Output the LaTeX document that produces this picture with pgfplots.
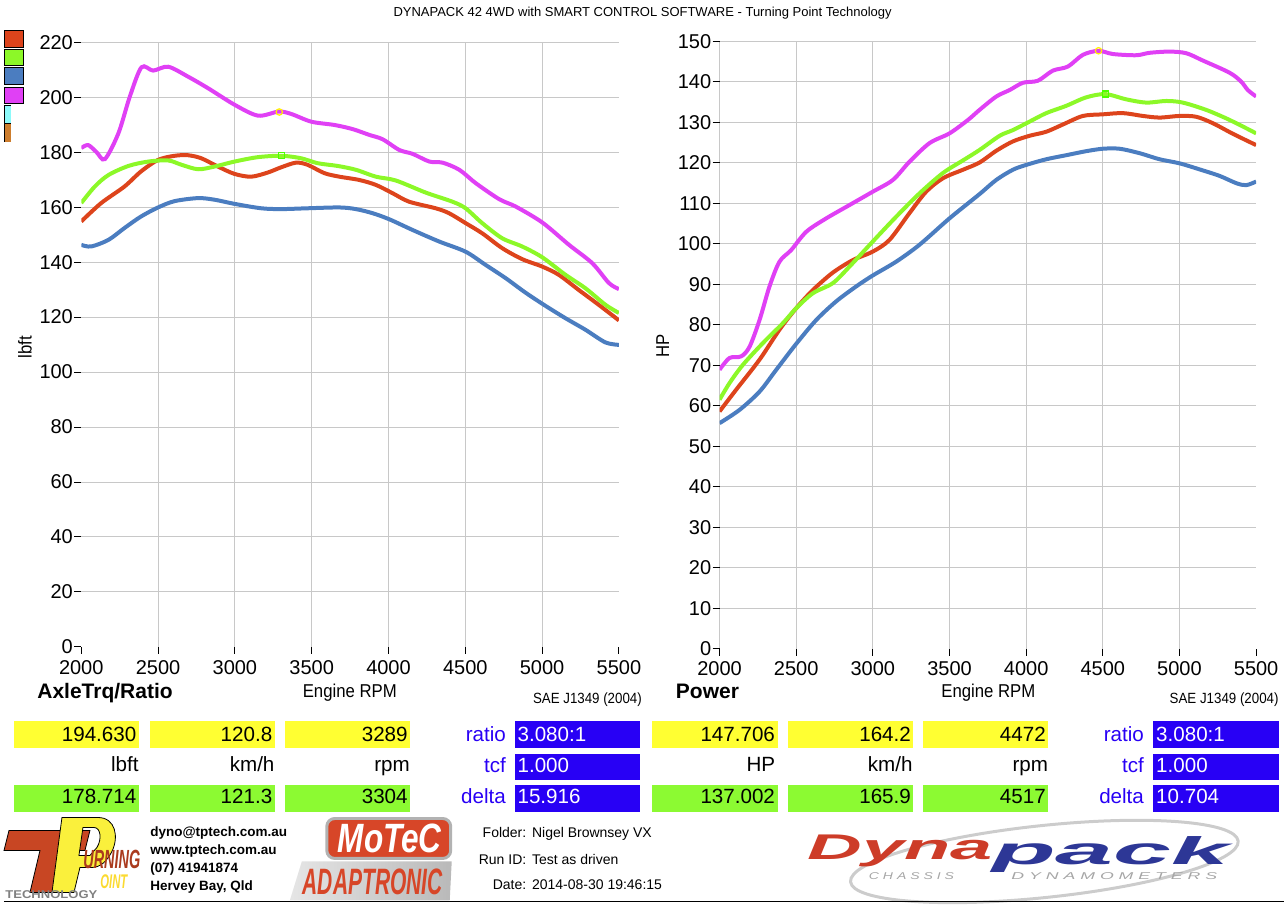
\documentclass[border=0pt]{standalone}
\usepackage{fontspec}
\setmainfont{Liberation Sans}
\newfontfamily\narrowfont[FakeStretch=0.9]{Liberation Sans}
\usepackage{graphicx}
\usepackage{pgfplots}
\pgfplotsset{compat=1.18}

\definecolor{dred}{RGB}{221,68,28}
\definecolor{dgreen}{RGB}{140,248,40}
\definecolor{dblue}{RGB}{75,125,192}
\definecolor{dmag}{RGB}{224,64,245}
\definecolor{dcyan}{RGB}{140,250,250}
\definecolor{dorange}{RGB}{205,125,45}
\definecolor{boxyel}{RGB}{255,255,50}
\definecolor{boxgrn}{RGB}{140,250,50}
\definecolor{boxblu}{RGB}{40,0,245}
\definecolor{gridc}{RGB}{200,200,200}
\definecolor{tpred}{RGB}{200,70,35}
\definecolor{tpyel}{RGB}{250,240,60}
\definecolor{motec}{RGB}{215,70,40}
\definecolor{dynred}{RGB}{205,60,40}
\definecolor{dynblu}{RGB}{45,55,150}

\pgfplotsset{
  dyno/.style={
    scale only axis, anchor=south west,
    xmin=2000, xmax=5500, ymin=0,
    scaled x ticks=false, scaled y ticks=false,
    /pgf/number format/1000 sep={},
    /pgf/number format/assume math mode=true,
    grid=major, major grid style={gridc, line width=0.5pt},
    extra x tick style={grid=none}, extra y tick style={grid=none},
    axis line style={draw=none},
    tick align=outside, tick pos=left, major tick length=3.5pt,
    tick style={black, line width=0.5pt},
    tick label style={font=\fontsize{10}{12}\selectfont},
    yticklabel style={inner xsep=0.5pt},
    xticklabel style={inner ysep=3pt},
    label style={font=\narrowfont\fontsize{9.3}{11}\selectfont},
  },
  curve/.style={line width=2pt, smooth},
}

\begin{document}
\begin{tikzpicture}
\begin{scope}[x=0.5pt,y=-0.5pt]
\path[use as bounding box] (0,0) rectangle (1285,907);
\end{scope}

% ---- axle torque ----
\begin{axis}[dyno,
  at={(40.65pt,-323.65pt)}, width=269pt, height=302.5pt,
  ymax=220,
  xtick={2500,3000,...,5000}, extra x ticks={2000,5500},
  ytick={20,40,...,220}, extra y ticks={0},
  xlabel={Engine RPM}, ylabel={lbft},
  xlabel style={at={(axis description cs:0.4994,-0.0838)}, anchor=base},
  ylabel style={at={(axis description cs:-0.1046,0.496)}, anchor=center},
]
\addplot[curve, dblue] coordinates {(2000,146.3) (2065,145.7) (2177,148.1) (2281,152.4) (2389,156.6) (2500,159.9) (2608,162.2) (2761,163.3) (2869,162.7) (2998,161.2) (3171,159.6) (3301,159.3) (3474,159.6) (3680,159.9) (3788,159.3) (3897,157.8) (4005,155.6) (4157,151.7) (4330,147.5) (4502,143.8) (4632,139) (4762,134.2) (4892,128.9) (5022,124.1) (5152,119.6) (5282,115.4) (5412,110.8) (5500,109.9)};
\addplot[curve, dred] coordinates {(2000,154.8) (2130,161.5) (2281,167.5) (2389,173) (2500,177.2) (2608,178.7) (2695,178.9) (2781,177.8) (2889,174.8) (2998,172.1) (3106,171.1) (3214,172.6) (3301,174.5) (3398,176.2) (3474,175.4) (3582,172.4) (3680,171.1) (3810,169.9) (3918,168.1) (4026,165.1) (4134,162) (4307,159.6) (4394,157.8) (4502,154.2) (4610,150.5) (4740,145.1) (4870,141.1) (5000,138.4) (5108,135.4) (5238,129.9) (5368,124.5) (5500,118.8)};
\addplot[curve, dgreen] coordinates {(2000,161.5) (2088,167.5) (2177,171.7) (2307,175) (2437,176.6) (2566,177) (2654,175.4) (2761,173.8) (2869,174.8) (2998,176.6) (3150,178.2) (3304,178.7) (3431,177.8) (3539,176) (3669,175) (3788,173.6) (3918,171.1) (4048,169.7) (4243,165.3) (4416,162) (4502,159.6) (4610,154.2) (4740,148.7) (4870,145.7) (5000,141.8) (5152,135.4) (5282,130.5) (5412,124.5) (5500,121.5)};
\addplot[curve, dmag] coordinates {(2000,181.5) (2045,182.6) (2100,180) (2154,177.5) (2242,186.9) (2316,200.2) (2392,210.9) (2468,209.7) (2566,211.1) (2695,207.5) (2825,203.3) (3000,197.2) (3151,193.3) (3286,194.8) (3368,193.9) (3498,191.1) (3649,189.9) (3767,188.4) (3875,186.3) (3962,184.7) (4071,180.8) (4157,179.4) (4266,176.6) (4352,176.2) (4461,173.6) (4569,168.7) (4721,162.9) (4829,160.2) (5002,154.4) (5175,146.3) (5327,139.6) (5435,132.4) (5500,130.2)};
\addplot[only marks, mark=o, mark size=1.6pt, yellow, line width=0.6pt] coordinates {(3289,194.63)};
\addplot[only marks, mark=square, mark size=1.5pt, green!60!lime, line width=0.6pt] coordinates {(3304,178.714)};
\end{axis}

% ---- power ----
\begin{axis}[dyno,
  at={(360pt,-324.5pt)}, width=268.45pt, height=303.75pt,
  ymax=150,
  xtick={2000,2500,...,5000}, extra x ticks={5500},
  ytick={10,20,...,150}, extra y ticks={0},
  xlabel={Engine RPM}, ylabel={HP},
  xlabel style={at={(axis description cs:0.501,-0.0807)}, anchor=base},
  ylabel style={at={(axis description cs:-0.106,0.499)}, anchor=center},
]
\addplot[curve, dblue] coordinates {(2000,55.7) (2131,59) (2261,63.5) (2370,68.9) (2500,75.3) (2631,81.2) (2761,85.8) (2892,89.5) (3000,92.2) (3152,95.6) (3305,99.8) (3500,106.3) (3696,112.3) (3805,115.8) (3913,118.3) (4000,119.5) (4131,120.9) (4261,121.9) (4392,122.9) (4500,123.5) (4609,123.5) (4740,122.4) (4870,120.9) (5000,119.9) (5131,118.4) (5261,116.8) (5370,115) (5435,114.5) (5500,115.4)};
\addplot[curve, dred] coordinates {(2000,58.6) (2109,64) (2261,71.4) (2391,78.8) (2500,84.1) (2609,88.6) (2739,92.9) (2870,96) (3000,98.1) (3109,101) (3239,107.6) (3348,112.9) (3457,116.2) (3587,118.3) (3696,120.1) (3805,123) (3913,125.3) (4022,126.7) (4131,127.7) (4240,129.5) (4370,131.6) (4500,132) (4631,132.3) (4761,131.6) (4870,131.2) (5000,131.6) (5109,131.4) (5218,129.8) (5348,127.2) (5500,124.4)};
\addplot[curve, dgreen] coordinates {(2000,61.5) (2065,65.6) (2152,70.1) (2283,75.5) (2413,80.4) (2500,84.1) (2609,87.8) (2739,90.3) (2848,94.4) (3000,100.6) (3152,106.7) (3305,112.5) (3457,117.5) (3587,120.6) (3696,123.2) (3827,126.7) (3913,128.1) (4022,130.2) (4131,132.3) (4261,134.1) (4392,136.2) (4517,137) (4653,135.7) (4783,134.9) (4914,135.3) (5022,134.9) (5174,133.1) (5305,131) (5413,129) (5500,127.3)};
\addplot[curve, dmag] coordinates {(2000,68.9) (2065,71.8) (2141,72.2) (2196,74.6) (2261,81.2) (2326,89.5) (2391,95.6) (2468,98.5) (2566,103) (2696,106.3) (2848,109.6) (3000,112.9) (3131,115.8) (3239,120.3) (3370,124.9) (3500,127.3) (3620,130.6) (3696,133.1) (3805,136.4) (3892,138) (3979,139.8) (4076,140.3) (4174,142.8) (4272,143.8) (4370,146.7) (4472,147.7) (4566,146.9) (4718,146.6) (4805,147.2) (4935,147.5) (5044,147.1) (5152,145.3) (5326,142.3) (5402,140.1) (5446,138) (5500,136.4)};
\addplot[only marks, mark=o, mark size=1.6pt, yellow, line width=0.6pt] coordinates {(4472,147.706)};
\addplot[only marks, mark=square, mark size=1.5pt, green!60!lime, line width=0.6pt] coordinates {(4517,137.002)};
\end{axis}

\begin{scope}[x=0.5pt,y=-0.5pt]
% title
\node[anchor=base, inner sep=0, font=\fontsize{6.5}{8}\selectfont] at (643,16.5)
  {DYNAPACK 42 4WD with SMART CONTROL SOFTWARE - Turning Point Technology};
% colour swatches
\filldraw[fill=dred, draw=black, line width=0.5pt] (4.3,30.7) rectangle (23.3,47.3);
\filldraw[fill=dgreen, draw=black, line width=0.5pt] (4.3,49.3) rectangle (23.3,66);
\filldraw[fill=dblue, draw=black, line width=0.5pt] (4.3,67.7) rectangle (23.3,84.3);
\filldraw[fill=dmag, draw=black, line width=0.5pt] (4.3,87.3) rectangle (23.3,104);
\fill[dcyan] (4.3,106) rectangle (11,122.7);
\draw[line width=0.5pt] (11,106) -- (4.3,106) -- (4.3,122.7);
\fill[dorange] (4.3,124) rectangle (11,141.7);
\draw[line width=0.5pt] (11,124) -- (4.3,124) -- (4.3,141.7);

% panel headings
\node[anchor=base west, inner sep=0, font=\bfseries\fontsize{10.5}{12}\selectfont] at (37,699) {AxleTrq/Ratio};
\node[anchor=base west, inner sep=0, font=\bfseries\fontsize{10.5}{12}\selectfont] at (676,699) {Power};
\node[anchor=base east, inner sep=0, font=\narrowfont\fontsize{7.4}{9}\selectfont] at (642.6,704) {SAE J1349 (2004)};
\node[anchor=base east, inner sep=0, font=\narrowfont\fontsize{7.4}{9}\selectfont] at (1279.7,704) {SAE J1349 (2004)};

% value boxes
\begin{scope}[every node/.style={inner sep=0, font=\fontsize{10.3}{12}\selectfont}]
\foreach \a/\b/\t in {14.5/139/194.630, 150/275/120.8, 285.5/410.5/3289,
                       652/778/147.706, 788/914/164.2, 924/1049/4472} {
  \fill[boxyel] (\a,721) rectangle (\b,748);
  \node[anchor=base east] at (\b-2.2,742) {\t};
}
\foreach \a/\b/\t in {14.5/139/178.714, 150/275/121.3, 285.5/410.5/3304,
                       652/778/137.002, 788/914/165.9, 924/1049/4517} {
  \fill[boxgrn] (\a,785) rectangle (\b,812);
  \node[anchor=base east] at (\b-2.2,804) {\t};
}
\node[anchor=base east] at (139,772) {lbft};
\node[anchor=base east] at (275,772) {km/h};
\node[anchor=base east] at (410.5,772) {rpm};
\node[anchor=base east] at (776,772) {HP};
\node[anchor=base east] at (913.5,772) {km/h};
\node[anchor=base east] at (1049,772) {rpm};
\foreach \a/\b/\l/\ra/\rb in {515/640.5/506.6/3.080:1/15.916, 1154/1280/1145/3.080:1/10.704} {
  \fill[boxblu] (\a,721) rectangle (\b,748);
  \fill[boxblu] (\a,754) rectangle (\b,780);
  \fill[boxblu] (\a,785) rectangle (\b,812);
  \node[anchor=base east, boxblu] at (\l,742) {ratio};
  \node[anchor=base east, boxblu] at (\l,773) {tcf};
  \node[anchor=base east, boxblu] at (\l,804) {delta};
  \node[anchor=base west, white] at (\a+2.5,742) {\ra};
  \node[anchor=base west, white] at (\a+2.5,773) {1.000};
  \node[anchor=base west, white] at (\a+2.5,804) {\rb};
}
\end{scope}

% run details
\begin{scope}[every node/.style={inner sep=0, font=\fontsize{7}{8}\selectfont}]
\node[anchor=base east] at (527,838) {Folder:};
\node[anchor=base west] at (532,838) {Nigel Brownsey VX};
\node[anchor=base east] at (527,865) {Run ID:};
\node[anchor=base west] at (532,865) {Test as driven};
\node[anchor=base east] at (527,890) {Date:};
\node[anchor=base west] at (532,890) {2014-08-30 19:46:15};
\end{scope}

% contact block
\begin{scope}[every node/.style={inner sep=0, anchor=base west, font=\bfseries\fontsize{6.75}{8}\selectfont}]
\node at (150,837) {dyno@tptech.com.au};
\node at (150,855) {www.tptech.com.au};
\node at (150,873) {(07) 41941874};
\node at (150,891) {Hervey Bay, Qld};
\end{scope}

% Turning Point logo
\filldraw[fill=tpred, draw=black, line width=0.4pt]
  (9,831) -- (90,831) -- (85,851) -- (63,851) -- (53,893) -- (30,893) -- (40,851) -- (4,851) -- cycle;
\filldraw[fill=tpyel, draw=black, line width=0.4pt, even odd rule]
  (62,818) -- (98,818) .. controls (116,818) and (119,838) .. (112,852) .. controls (107,862) and (100,868) .. (92,868)
  -- (80,868) -- (74,893) -- (52,893) -- cycle
  (83,828) -- (94,828) .. controls (101,828) and (102,840) .. (97,848) -- (90,856) -- (79,856) -- cycle;
\node[anchor=south west, inner sep=0, tpred!85!black] at (83,869.5)
  {\resizebox*{28.5pt}{9.3pt}{\bfseries\itshape URNING}};
\node[anchor=south west, inner sep=0, tpyel!80!orange] at (100,890)
  {\resizebox*{13.5pt}{7pt}{\bfseries\itshape OINT}};
\node[anchor=south west, inner sep=0, gray] at (5,900)
  {\resizebox*{46pt}{4pt}{\bfseries TECHNOLOGY}};

% MoTeC / Adaptronic
\filldraw[fill=motec, draw=gray!60, line width=1.5pt, rounded corners=4pt] (327,819) rectangle (451,859);
\node[inner sep=0, white] at (390,839) {\resizebox*{52pt}{14.5pt}{\bfseries\itshape MoTeC}};
\shade[left color=gray!20, right color=gray!55] (302,862) -- (452,862) -- (450,901) -- (290,901) -- cycle;
\node[inner sep=0, motec] at (373,882) {\resizebox*{70pt}{13pt}{\bfseries\itshape ADAPTRONIC}};

% Dynapack logo
\draw[gray!40, line width=1.5pt, rotate around={6:(1045,862)}] (1045,862) ellipse (195 and 36);
\node[inner sep=0, dynred] at (900.5,851) {\resizebox*{92.5pt}{16pt}{\bfseries\itshape Dyna}};
\node[inner sep=0, dynblu] at (1111.5,855) {\resizebox*{118.5pt}{18pt}{\bfseries\itshape pack}};
\node[inner sep=0, gray!70] at (912,876.5) {\resizebox*{42.5pt}{3.5pt}{\itshape C H A S S I S}};
\node[inner sep=0, gray!70] at (1115,876.5) {\resizebox*{103pt}{3.5pt}{\itshape D Y N A M O M E T E R S}};

% bottom rule
\draw[line width=0.8pt] (4,902) -- (1285,902);
\end{scope}
\end{tikzpicture}
\end{document}
